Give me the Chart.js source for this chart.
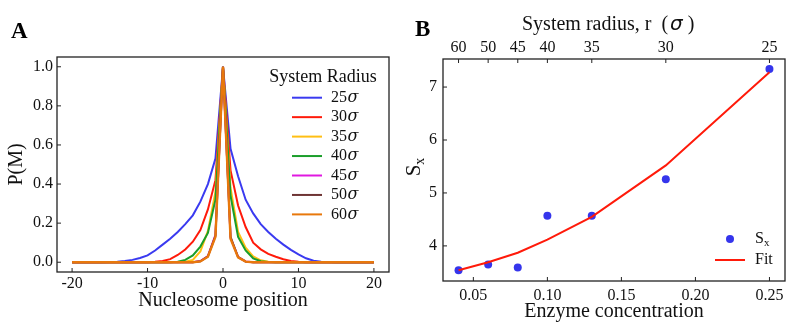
<!DOCTYPE html>
<html>
<head>
<meta charset="utf-8">
<script src="https://cdn.jsdelivr.net/npm/chart.js@4/dist/chart.umd.min.js"></script>
<style>
  html, body { margin: 0; padding: 0; background: #fff; }
  #wrap { position: relative; width: 790px; height: 325px; }
  canvas { position: absolute; top: 0; }
  #chartA { left: 0; }
  #chartB { left: 400px; }
</style>
</head>
<body>
<div id="wrap">
  <canvas id="chartA" width="400" height="325"></canvas>
  <canvas id="chartB" width="390" height="325"></canvas>
</div>
<script>
// ---- panel A data ----
const positions = [-20,-19,-18,-17,-16,-15,-14,-13,-12,-11,-10,-9,-8,-7,-6,-5,-4,-3,-2,-1,0,
                   1,2,3,4,5,6,7,8,9,10,11,12,13,14,15,16,17,18,19,20];
const radiusLabels = ['25', '30', '35', '40', '45', '50', '60'];
const r25 = [0,0,0,0,0,0.001,0.003,0.006,0.012,0.022,0.035,0.06,0.09,0.12,0.155,0.195,0.24,0.31,0.40,0.53,1.0,
             0.58,0.44,0.32,0.25,0.195,0.155,0.12,0.09,0.063,0.04,0.02,0.008,0.003,0.001,0,0,0,0,0,0];
const r30 = [0,0,0,0,0,0,0,0,0,0,0,0.002,0.006,0.016,0.037,0.065,0.105,0.165,0.27,0.42,1.0,
             0.47,0.29,0.18,0.10,0.066,0.043,0.028,0.015,0.006,0.002,0,0,0,0,0,0,0,0,0,0];
const r35 = [0,0,0,0,0,0,0,0,0,0,0,0,0,0,0,0.002,0.012,0.055,0.16,0.36,1.0,
             0.38,0.155,0.075,0.03,0.01,0.003,0,0,0,0,0,0,0,0,0,0,0,0,0,0];
const r40 = [0,0,0,0,0,0,0,0,0,0,0,0,0,0,0.002,0.012,0.035,0.08,0.15,0.32,1.0,
             0.34,0.13,0.06,0.02,0.005,0.001,0,0,0,0,0,0,0,0,0,0,0,0,0,0];
const r45 = [0,0,0,0,0,0,0,0,0,0,0,0,0,0,0,0,0,0.006,0.032,0.14,1.0,
             0.125,0.028,0.004,0,0,0,0,0,0,0,0,0,0,0,0,0,0,0,0,0];
const r50 = [0,0,0,0,0,0,0,0,0,0,0,0,0,0,0,0,0,0.005,0.03,0.135,1.0,
             0.13,0.026,0.003,0,0,0,0,0,0,0,0,0,0,0,0,0,0,0,0,0];
const r60 = [0,0,0,0,0,0,0,0,0,0,0,0,0,0,0,0,0,0.004,0.028,0.13,1.0,
             0.12,0.025,0.003,0,0,0,0,0,0,0,0,0,0,0,0,0,0,0,0,0];
const xTicksA = [-20, -10, 0, 10, 20];
const yTicksA = [0, 0.2, 0.4, 0.6, 0.8, 1.0];

// ---- panel B data ----
const enzyme = [0.04, 0.06, 0.08, 0.10, 0.13, 0.18, 0.25];
const sx = [3.54, 3.65, 3.59, 4.57, 4.57, 5.26, 7.34];
const fit = [3.54, 3.69, 3.87, 4.12, 4.55, 5.52, 7.28];
const radius = ['60', '50', '45', '40', '35', '30', '25'];
const xTicksB = [0.05, 0.10, 0.15, 0.20, 0.25];
const yTicksB = [4, 5, 6, 7];

const SERIF = '"Liberation Serif", "DejaVu Serif", serif';
const INK = '#111';
const TICK = 16;
Chart.defaults.font.family = SERIF;
Chart.defaults.color = INK;

function fixSize(prop, size) {
  return function (scale) {
    scale[prop] = size;
    scale.paddingLeft = 0; scale.paddingRight = 0;
    scale.paddingTop = 0; scale.paddingBottom = 0;
  };
}
function setTicks(arr) {
  return function (scale) { scale.ticks = arr.map(v => ({ value: v })); };
}
function points(xs, ys) {
  return xs.map((x, i) => ({ x: x, y: ys[i] }));
}

// frame + inward tick marks
const frameTicks = {
  id: 'frameTicks',
  afterDatasetsDraw(chart, args, opts) {
    const ctx = chart.ctx, a = chart.chartArea;
    ctx.save();
    ctx.strokeStyle = '#222';
    ctx.lineWidth = 1;
    for (const id of opts.ids) {
      const s = chart.scales[id];
      s.ticks.forEach(t => {
        const p = s.getPixelForValue(t.value);
        ctx.beginPath();
        if (s.position === 'left') { ctx.moveTo(a.left, p); ctx.lineTo(a.left + 4, p); }
        else if (s.position === 'bottom') { ctx.moveTo(p, a.bottom); ctx.lineTo(p, a.bottom - 4); }
        else { ctx.moveTo(p, a.top); ctx.lineTo(p, a.top + 4); }
        ctx.stroke();
      });
    }
    ctx.lineWidth = 1.3;
    ctx.strokeRect(a.left, a.top, a.right - a.left, a.bottom - a.top);
    ctx.restore();
  }
};

const panelLetter = {
  id: 'panelLetter',
  afterDraw(chart, args, opts) {
    const ctx = chart.ctx;
    ctx.save();
    ctx.font = 'bold 23px ' + SERIF;
    ctx.fillStyle = '#000';
    ctx.textBaseline = 'middle';
    ctx.fillText(opts.text, opts.x, opts.y);
    ctx.restore();
  }
};

const legendA = {
  id: 'legendA',
  afterDraw(chart) {
    const ctx = chart.ctx;
    ctx.save();
    ctx.fillStyle = INK;
    ctx.textBaseline = 'middle';
    ctx.textAlign = 'center';
    ctx.font = '18px ' + SERIF;
    ctx.fillText('System Radius', 323, 77);
    ctx.textAlign = 'left';
    chart.data.datasets.forEach((ds, i) => {
      const y = 97.7 + i * 19.45;
      ctx.strokeStyle = ds.borderColor;
      ctx.lineWidth = 2;
      ctx.beginPath(); ctx.moveTo(292, y); ctx.lineTo(322, y); ctx.stroke();
      ctx.font = '16px ' + SERIF;
      const num = radiusLabels[i];
      ctx.fillText(num, 331, y);
      const w = ctx.measureText(num).width;
      ctx.font = 'italic 16px "DejaVu Serif", serif';
      ctx.fillText('σ', 331 + w + 0.5, y);
    });
    ctx.restore();
  }
};

const extrasB = {
  id: 'extrasB',
  afterDraw(chart) {
    const ctx = chart.ctx;
    // top axis title with italic sigma
    ctx.save();
    ctx.fillStyle = INK;
    ctx.textBaseline = 'middle';
    let x = 122;
    ctx.font = '20px ' + SERIF;
    ctx.fillText('System radius, r  (', x, 25);
    x += ctx.measureText('System radius, r  (').width + 2;
    ctx.font = 'italic 20px "DejaVu Sans", sans-serif';
    ctx.fillText('σ', x, 25);
    x += ctx.measureText('σ').width + 5;
    ctx.font = '20px ' + SERIF;
    ctx.fillText(')', x, 25);
    ctx.restore();

    // y axis title S_x
    ctx.save();
    ctx.fillStyle = INK;
    ctx.textBaseline = 'alphabetic';
    ctx.translate(20, 166);
    ctx.rotate(-Math.PI / 2);
    ctx.font = '21px ' + SERIF;
    const sw = ctx.measureText('S').width;
    const xw = 9;
    ctx.fillText('S', -(sw + xw) / 2, 0);
    ctx.font = '14px ' + SERIF;
    ctx.fillText('x', -(sw + xw) / 2 + sw, 4);
    ctx.restore();

    // legend
    ctx.save();
    ctx.fillStyle = '#3535ec';
    ctx.beginPath(); ctx.arc(330, 239, 4, 0, Math.PI * 2); ctx.fill();
    ctx.strokeStyle = '#ff1a0a';
    ctx.lineWidth = 2;
    ctx.beginPath(); ctx.moveTo(315, 260); ctx.lineTo(345, 260); ctx.stroke();
    ctx.fillStyle = INK;
    ctx.textBaseline = 'middle';
    ctx.font = '16px ' + SERIF;
    ctx.fillText('S', 355, 239);
    const w = ctx.measureText('S').width;
    ctx.font = '11px ' + SERIF;
    ctx.fillText('x', 355 + w, 243);
    ctx.font = '16px ' + SERIF;
    ctx.fillText('Fit', 355, 260);
    ctx.restore();
  }
};

// ---- Panel A ----
const colorsA = ['#3a3af0', '#ff1a0a', '#ffbf14', '#1a9e2a', '#e018e0', '#6e3434', '#e8780c'];
const seriesA = [r25, r30, r35, r40, r45, r50, r60];

new Chart(document.getElementById('chartA'), {
  type: 'line',
  data: {
    datasets: seriesA.map((s, i) => ({
      label: radiusLabels[i] + 'σ',
      data: points(positions, s),
      borderColor: colorsA[i],
      borderWidth: i === 6 ? 2.4 : 2,
      pointRadius: 0,
      tension: 0,
      order: 7 - i
    }))
  },
  options: {
    responsive: false,
    animation: false,
    layout: { padding: { left: 0, top: 57, right: 11, bottom: 0 } },
    plugins: {
      legend: { display: false },
      tooltip: { enabled: false },
      frameTicks: { ids: ['x', 'y'] },
      panelLetter: { text: 'A', x: 11, y: 32 }
    },
    scales: {
      x: {
        type: 'linear', position: 'bottom', min: -22, max: 22,
        afterBuildTicks: setTicks(xTicksA),
        afterFit: fixSize('height', 53),
        grid: { display: false, drawTicks: false },
        border: { display: false },
        ticks: { padding: 2, font: { size: TICK }, color: INK, callback: v => String(v) },
        title: { display: true, text: 'Nucleosome position', font: { size: 20 }, color: INK, padding: { top: 0, bottom: 12 } }
      },
      y: {
        type: 'linear', position: 'left', min: -0.05, max: 1.05,
        afterBuildTicks: setTicks(yTicksA),
        afterFit: fixSize('width', 57),
        grid: { display: false, drawTicks: false },
        border: { display: false },
        ticks: { padding: 4, font: { size: TICK }, color: INK, callback: v => v.toFixed(1) },
        title: { display: true, text: 'P(M)', font: { size: 20 }, color: INK, padding: { top: 5, bottom: 0 } }
      }
    }
  },
  plugins: [frameTicks, panelLetter, legendA]
});

// ---- Panel B ----
new Chart(document.getElementById('chartB'), {
  type: 'scatter',
  data: {
    datasets: [
      {
        label: 'Sx',
        data: points(enzyme, sx),
        backgroundColor: '#3535ec',
        borderWidth: 0,
        pointRadius: 4,
        order: 1
      },
      {
        type: 'line',
        label: 'Fit',
        data: points(enzyme, fit),
        borderColor: '#ff1a0a',
        borderWidth: 2,
        pointRadius: 0,
        tension: 0,
        order: 0
      }
    ]
  },
  options: {
    responsive: false,
    animation: false,
    layout: { padding: { left: 0, top: 0, right: 5, bottom: 0 } },
    plugins: {
      legend: { display: false },
      tooltip: { enabled: false },
      frameTicks: { ids: ['x', 'y', 'x2'] },
      panelLetter: { text: 'B', x: 15, y: 30 }
    },
    scales: {
      x: {
        type: 'linear', position: 'bottom', min: 0.0295, max: 0.2605,
        afterBuildTicks: setTicks(xTicksB),
        afterFit: fixSize('height', 44),
        grid: { display: false, drawTicks: false },
        border: { display: false },
        ticks: { padding: 5, font: { size: TICK }, color: INK, callback: v => v.toFixed(2) },
        title: { display: true, text: 'Enzyme concentration', font: { size: 20 }, color: INK, padding: { top: 0, bottom: 1 } }
      },
      x2: {
        type: 'linear', position: 'top', min: 0.0295, max: 0.2605,
        afterBuildTicks: setTicks(enzyme),
        afterFit: fixSize('height', 59),
        grid: { display: false, drawTicks: false },
        border: { display: false },
        ticks: { padding: 2, font: { size: TICK }, color: INK, callback: (v, i) => radius[i] }
      },
      y: {
        type: 'linear', position: 'left', min: 3.337, max: 7.53,
        afterBuildTicks: setTicks(yTicksB),
        afterFit: fixSize('width', 43),
        grid: { display: false, drawTicks: false },
        border: { display: false },
        ticks: { padding: 6, font: { size: TICK }, color: INK, callback: v => String(v) }
      }
    }
  },
  plugins: [frameTicks, panelLetter, extrasB]
});
</script>
</body>
</html>
